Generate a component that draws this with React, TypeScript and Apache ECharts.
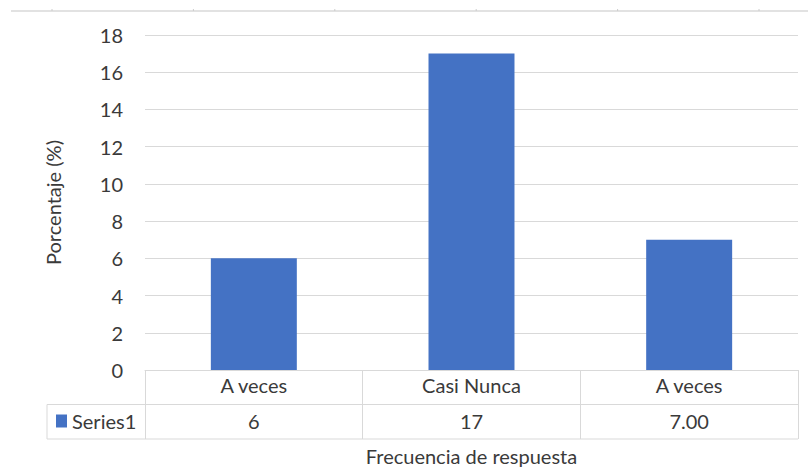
import React, { useEffect, useRef } from "react";
import * as echarts from "echarts";

const categories = ["A veces", "Casi Nunca", "A veces"];
const seriesName = "Series1";
const values = [6, 17, 7];
const tableValueLabels = ["6", "17", "7.00"];
const yTicks = [0, 2, 4, 6, 8, 10, 12, 14, 16, 18];
const yAxisTitle = "Porcentaje (%)";
const xAxisTitle = "Frecuencia de respuesta";

const W = 808;
const H = 469;
const FONT = "Lato";
const FS = 20;
const TXT = "#3a3a3a";
const GRID_LINE = "#d9d9d9";
const BAR = "#4472C4";

const gridLeft = 145;
const gridRight = 10;
const gridTop = 35;
const gridBottom = 99;
const rowH = 34.5;
const tableLeft = 47;

export default function App() {
  const ref = useRef<HTMLDivElement>(null);
  useEffect(() => {
    if (!ref.current) return;
    const chart = echarts.init(ref.current, null, { renderer: "svg" });
    const axisY = H - gridBottom;
    const right = W - gridRight;
    const topTicks = [52, 193.4, 334.8, 476.2, 617.6, 759];
    chart.setOption({
      animation: false,
      backgroundColor: "#ffffff",
      textStyle: { fontFamily: FONT },
      grid: {
        left: gridLeft,
        right: gridRight,
        top: gridTop,
        bottom: gridBottom,
        containLabel: false,
        outerBoundsMode: "none",
      },
      legend: {
        data: [seriesName],
        left: 56,
        top: axisY + rowH + 6.5,
        padding: 0,
        icon: "rect",
        itemWidth: 11,
        itemHeight: 13,
        textStyle: { fontFamily: FONT, fontSize: FS, color: TXT },
      },
      xAxis: [
        {
          type: "category",
          data: categories,
          position: "bottom",
          axisLine: { show: true, lineStyle: { color: GRID_LINE, width: 1 } },
          axisTick: { show: true, length: rowH * 2, lineStyle: { color: GRID_LINE } },
          axisLabel: {
            fontFamily: FONT,
            fontSize: FS,
            color: TXT,
            margin: 5,
            interval: 0,
            formatter: (_v: string, i: number) => categories[i],
          },
        },
        {
          type: "category",
          data: categories,
          position: "bottom",
          offset: rowH,
          axisLine: { show: false },
          axisTick: { show: false },
          axisLabel: {
            fontFamily: FONT,
            fontSize: FS,
            color: TXT,
            margin: 6,
            interval: 0,
            formatter: (_v: string, i: number) => tableValueLabels[i],
          },
          name: xAxisTitle,
          nameLocation: "middle",
          nameGap: 41,
          nameTextStyle: { fontFamily: FONT, fontSize: FS, color: TXT },
        },
      ],
      yAxis: {
        type: "value",
        min: yTicks[0],
        max: yTicks[yTicks.length - 1],
        interval: yTicks[1] - yTicks[0],
        axisLine: { show: false },
        axisTick: { show: false },
        splitLine: { lineStyle: { color: GRID_LINE, width: 1 } },
        axisLabel: { fontFamily: FONT, fontSize: FS, color: TXT, margin: 22 },
        name: yAxisTitle,
        nameLocation: "middle",
        nameRotate: 90,
        nameGap: 82,
        nameTextStyle: { fontFamily: FONT, fontSize: FS, color: TXT },
      },
      series: [
        {
          name: seriesName,
          type: "bar",
          data: values,
          barWidth: "39.5%",
          itemStyle: { color: BAR },
          xAxisIndex: 0,
        },
      ],
      graphic: [
        {
          type: "line",
          shape: { x1: tableLeft, y1: axisY + rowH, x2: right, y2: axisY + rowH },
          style: { stroke: GRID_LINE, lineWidth: 1 },
        },
        {
          type: "line",
          shape: { x1: tableLeft, y1: axisY + rowH * 2, x2: right, y2: axisY + rowH * 2 },
          style: { stroke: GRID_LINE, lineWidth: 1 },
        },
        {
          type: "line",
          shape: { x1: tableLeft, y1: axisY + rowH, x2: tableLeft, y2: axisY + rowH * 2 },
          style: { stroke: GRID_LINE, lineWidth: 1 },
        },
        {
          type: "line",
          shape: { x1: 11, y1: 11, x2: W, y2: 11 },
          style: { stroke: GRID_LINE, lineWidth: 1.5 },
        },
        ...topTicks.map((x) => ({
          type: "line",
          shape: { x1: x, y1: 9, x2: x, y2: 11 },
          style: { stroke: "#cccccc", lineWidth: 1 },
        })),
      ],
    });
    return () => chart.dispose();
  }, []);
  return <div ref={ref} style={{ width: W, height: H, position: "absolute", left: 0, top: 0 }} />;
}
